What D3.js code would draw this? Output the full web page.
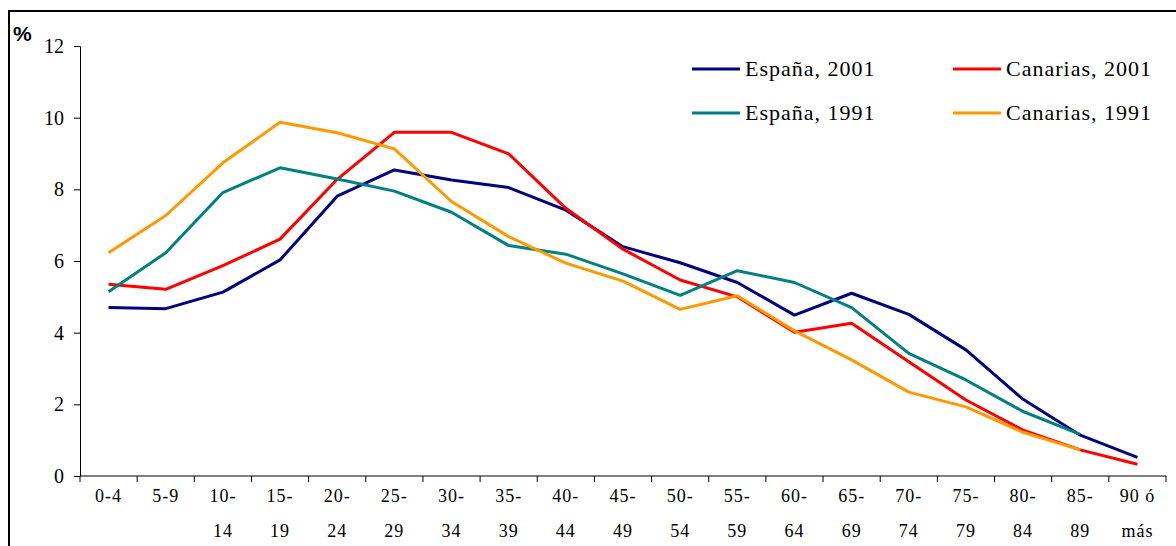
<!DOCTYPE html>
<html>
<head>
<meta charset="utf-8">
<script src="https://cdn.jsdelivr.net/npm/d3@7"></script>
<style>
  body { margin: 0; background: #fff; }
  svg { display: block; }
  .tick text { font-family: "Liberation Serif", "Times New Roman", serif; fill: #000; }
</style>
</head>
<body>
<div id="chart"></div>
<script>
// Age groups (two-line labels)
const categories = ['0-4', '5-9', '10-14', '15-19', '20-24', '25-29', '30-34', '35-39', '40-44',
  '45-49', '50-54', '55-59', '60-64', '65-69', '70-74', '75-79', '80-84', '85-89', '90 ó más'];
const catLines = [['0-4'], ['5-9'], ['10-', '14'], ['15-', '19'], ['20-', '24'], ['25-', '29'],
  ['30-', '34'], ['35-', '39'], ['40-', '44'], ['45-', '49'], ['50-', '54'], ['55-', '59'],
  ['60-', '64'], ['65-', '69'], ['70-', '74'], ['75-', '79'], ['80-', '84'], ['85-', '89'], ['90 ó', 'más']];

// % of population per age group (1991 series stop at 85-89)
const espana2001 = [4.70, 4.67, 5.13, 6.03, 7.81, 8.54, 8.26, 8.05, 7.42, 6.40, 5.95, 5.40, 4.49, 5.10, 4.51, 3.52, 2.14, 1.14, 0.52];
const canarias2001 = [5.35, 5.21, 5.87, 6.61, 8.28, 9.59, 9.59, 8.99, 7.47, 6.33, 5.47, 5.00, 4.01, 4.26, 3.19, 2.12, 1.28, 0.73, 0.33];
const espana1991 = [5.14, 6.23, 7.91, 8.60, 8.29, 7.95, 7.36, 6.43, 6.19, 5.64, 5.04, 5.73, 5.40, 4.70, 3.42, 2.68, 1.80, 1.16, null];
const canarias1991 = [6.23, 7.27, 8.74, 9.87, 9.58, 9.13, 7.66, 6.68, 5.94, 5.44, 4.65, 5.03, 4.05, 3.24, 2.34, 1.93, 1.22, 0.73, null];
const yTicks = [0, 2, 4, 6, 8, 10, 12];

const series = [
  { name: 'España, 2001', values: espana2001, color: '#000080' },
  { name: 'Canarias, 2001', values: canarias2001, color: '#ff0000' },
  { name: 'España, 1991', values: espana1991, color: '#008080' },
  { name: 'Canarias, 1991', values: canarias1991, color: '#ff9900' }
];

const width = 1176, height = 546;
const margin = { left: 80, right: 10, top: 46, bottom: 70 };

const svg = d3.select('#chart').append('svg')
  .attr('width', width)
  .attr('height', height);

// outer frame (runs off the right and bottom edges)
svg.append('rect')
  .attr('x', 9).attr('y', 11)
  .attr('width', 1300).attr('height', 700)
  .attr('fill', 'none')
  .attr('stroke', '#000')
  .attr('stroke-width', 2);

const x = d3.scaleBand()
  .domain(categories)
  .range([80, 1166]);

const y = d3.scaleLinear()
  .domain([0, 12])
  .range([476, 46]);

// y axis
const yAxis = svg.append('g')
  .attr('transform', 'translate(80,0)')
  .call(d3.axisLeft(y).tickValues(yTicks).tickSize(6).tickPadding(10));
yAxis.select('.domain').attr('stroke', '#000');
yAxis.selectAll('.tick line').attr('stroke', '#000');
yAxis.selectAll('.tick text').attr('font-size', 20);

// x axis: ticks at band boundaries
const xAxis = svg.append('g')
  .attr('transform', 'translate(0,476)');
xAxis.append('line')
  .attr('x1', 80).attr('x2', 1166)
  .attr('stroke', '#000');
const bounds = categories.map(c => x(c)).concat([x.range()[1]]);
xAxis.selectAll('.xtick')
  .data(bounds)
  .enter().append('line')
  .attr('x1', d => d).attr('x2', d => d)
  .attr('y1', 0).attr('y2', 6)
  .attr('stroke', '#000');

const xLabels = xAxis.selectAll('.xlabel')
  .data(categories)
  .enter().append('text')
  .attr('text-anchor', 'middle')
  .attr('font-family', '"Liberation Serif", "Times New Roman", serif')
  .attr('font-size', 18)
  .attr('letter-spacing', 1)
  .attr('transform', d => `translate(${x(d) + x.bandwidth() / 2},0)`);
xLabels.each(function (d, i) {
  const t = d3.select(this);
  catLines[i].forEach((ln, j) => {
    t.append('tspan').attr('x', 0).attr('y', 26 + j * 35).text(ln);
  });
});

// % label
svg.append('text')
  .attr('x', 13).attr('y', 41)
  .attr('font-family', '"Liberation Sans", Arial, sans-serif')
  .attr('font-weight', 'bold')
  .attr('font-size', 21)
  .text('%');

// lines
const line = d3.line()
  .defined(d => d != null)
  .x((d, i) => x(categories[i]) + x.bandwidth() / 2)
  .y(d => y(d));

svg.selectAll('.series')
  .data(series)
  .enter().append('path')
  .attr('d', d => line(d.values))
  .attr('fill', 'none')
  .attr('stroke', d => d.color)
  .attr('stroke-width', 3)
  .attr('stroke-linejoin', 'round');

// legend
const legendPos = [
  { lx: 692, ty: 69 }, { lx: 953, ty: 69 },
  { lx: 692, ty: 113 }, { lx: 953, ty: 113 }
];
const legend = svg.selectAll('.legend')
  .data(series)
  .enter().append('g')
  .attr('transform', (d, i) => `translate(${legendPos[i].lx},${legendPos[i].ty})`);
legend.append('line')
  .attr('x1', 0).attr('x2', 48)
  .attr('stroke', d => d.color)
  .attr('stroke-width', 3);
legend.append('text')
  .attr('x', 53).attr('y', 7)
  .attr('font-family', '"Liberation Serif", "Times New Roman", serif')
  .attr('font-size', 22)
  .attr('letter-spacing', 1)
  .text(d => d.name);
</script>
</body>
</html>
